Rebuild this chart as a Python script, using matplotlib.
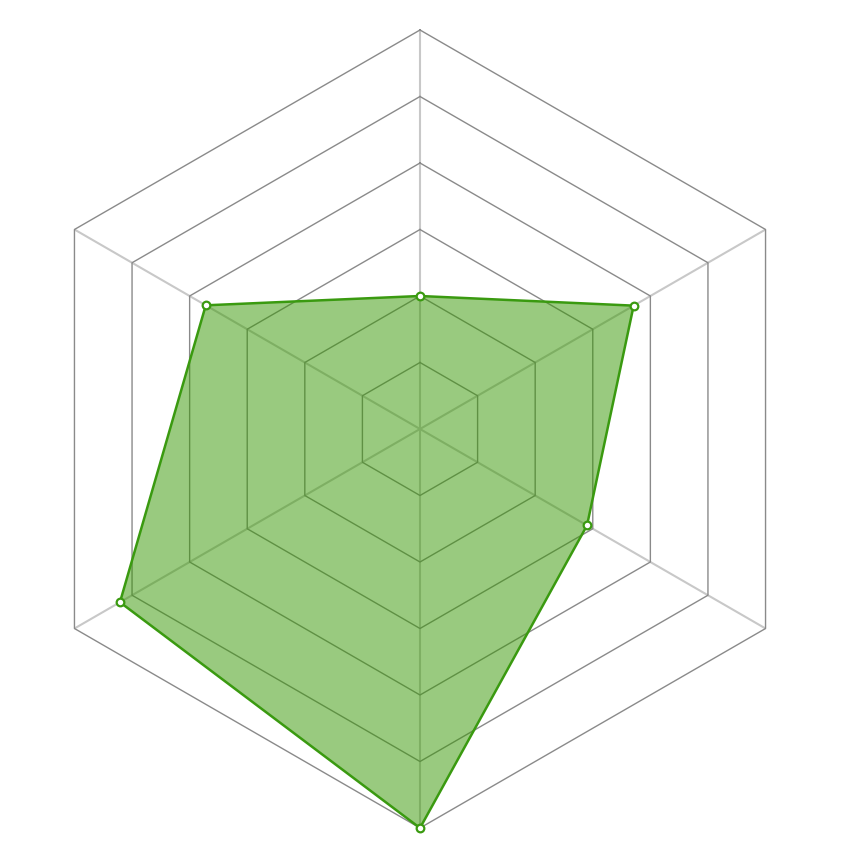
import numpy as np
import matplotlib
matplotlib.use("Agg")
import matplotlib.pyplot as plt

# Data (clockwise from top)
axes_names = ["A", "B", "C", "D", "E", "F"]
values = [2.0, 3.71, 2.9, 6.0, 5.21, 3.72]
ring_levels = [1, 2, 3, 4, 5, 6]
max_value = 6

n = len(axes_names)
angles = np.pi / 2 - np.arange(n) * 2 * np.pi / n  # clockwise from top

def to_xy(r, ang):
    return r * np.cos(ang), r * np.sin(ang)

fig = plt.figure(figsize=(8.6, 8.6), dpi=100)
ax = fig.add_axes([0, 0, 1, 1])
scale = max_value / 399.0
ax.set_xlim(-420 * scale, 440 * scale)
ax.set_ylim(-431 * scale, 429 * scale)
ax.set_aspect("equal")
ax.axis("off")

# spokes
for a in angles:
    x, y = to_xy(np.array([0, max_value]), a)
    ax.plot(x, y, color="#c8c8c8", lw=1.5, zorder=1, solid_capstyle="butt")

# rings
closed = np.append(angles, angles[0])
for lvl in ring_levels:
    x, y = to_xy(lvl, closed)
    ax.plot(x, y, color="#8a8a8a", lw=1.0, zorder=2)

# data polygon
vals = np.array(values + [values[0]])
x, y = to_xy(vals, closed)
ax.fill(x, y, color="#359700", alpha=0.5, lw=0, zorder=3)
ax.plot(x, y, color="#3a9a10", lw=1.8, zorder=4)
ax.plot(x[:-1], y[:-1], "o", ms=5.5, mfc="white", mec="#3a9a10", mew=1.6, zorder=5)

fig.savefig("out.png", dpi=100)
